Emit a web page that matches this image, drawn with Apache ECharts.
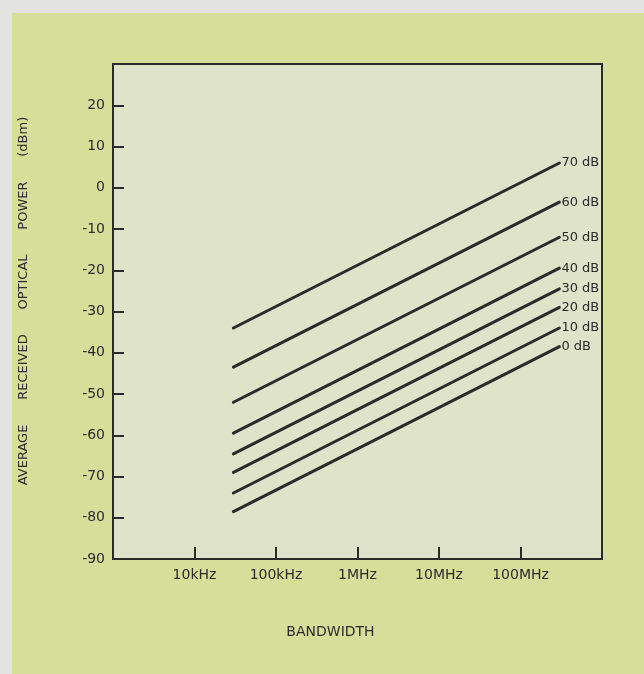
<!DOCTYPE html>
<html>
<head>
<meta charset="utf-8">
<script src="https://cdn.jsdelivr.net/npm/echarts@6/dist/echarts.min.js"></script>
<style>
  html, body { margin: 0; padding: 0; background: #e3e3e0; }
  #panel { position: absolute; left: 12px; top: 13px; right: 0; bottom: 0; background: #d6df99; }
  #chart { position: absolute; left: 0; top: 0; width: 644px; height: 674px; }
</style>
</head>
<body>
<div id="panel"></div>
<div id="chart"></div>
<script>
// link margin curves: received power vs bandwidth, one line per dB of margin
var margins = ['0 dB', '10 dB', '20 dB', '30 dB', '40 dB', '50 dB', '60 dB', '70 dB'];
var bandwidthRange = [3e4, 3e8];               // each line runs 30 kHz .. 300 MHz
var powerAtStart = [-78.5, -74, -69, -64.5, -59.5, -52, -43.5, -34];
var powerAtEnd   = [-38.5, -34, -29, -24.5, -19.5, -12, -3.5, 6];

var xTickValues = [1e4, 1e5, 1e6, 1e7, 1e8];
var xTickLabels = ['10kHz', '100kHz', '1MHz', '10MHz', '100MHz'];

var ink = '#2b2b2b';
var font = 'DejaVu Sans';

function xLabel(v) {
    for (var i = 0; i < xTickValues.length; i++) {
        if (Math.abs(Math.log10(v) - Math.log10(xTickValues[i])) < 1e-6) return xTickLabels[i];
    }
    return '';
}

var series = margins.map(function (name, i) {
    return {
        name: name,
        type: 'line',
        symbol: 'none',
        lineStyle: { color: ink, width: 3, cap: 'round' },
        endLabel: {
            show: true,
            formatter: '{a}',
            distance: 2,
            color: ink,
            fontFamily: font,
            fontSize: 13
        },
        data: [
            [bandwidthRange[0], powerAtStart[i]],
            [bandwidthRange[1], powerAtEnd[i]]
        ]
    };
});

var option = {
    animation: false,
    backgroundColor: 'transparent',
    grid: {
        left: 113,
        top: 64,
        right: 42,
        bottom: 115,
        show: true,
        backgroundColor: '#dfe3c9',
        borderColor: ink,
        borderWidth: 2
    },
    xAxis: {
        type: 'log',
        logBase: 10,
        min: 1e3,
        max: 1e9,
        name: 'BANDWIDTH',
        nameLocation: 'middle',
        nameGap: 66,
        nameTextStyle: { color: ink, fontFamily: font, fontSize: 14, padding: [0, 54, 0, 0] },
        axisLine: { onZero: false, lineStyle: { color: ink, width: 2 } },
        axisTick: { inside: true, length: 12, lineStyle: { color: ink, width: 2 } },
        axisLabel: { color: ink, fontFamily: font, fontSize: 14, margin: 9, formatter: xLabel },
        splitLine: { show: false }
    },
    yAxis: {
        type: 'value',
        min: -90,
        max: 30,
        interval: 10,
        name: 'AVERAGE      RECEIVED      OPTICAL      POWER      (dBm)',
        nameLocation: 'middle',
        nameGap: 83,
        nameTextStyle: { color: ink, fontFamily: font, fontSize: 13, padding: [0, 0, 0, 21] },
        axisLine: { onZero: false, lineStyle: { color: ink, width: 2 } },
        axisTick: { inside: true, length: 11, lineStyle: { color: ink, width: 2 } },
        axisLabel: {
            color: ink, fontFamily: font, fontSize: 14, margin: 8,
            formatter: function (v) { return v > 20 ? '' : String(v); }
        },
        splitLine: { show: false }
    },
    series: series
};

var chart = echarts.init(document.getElementById('chart'));
chart.setOption(option);
</script>
</body>
</html>
